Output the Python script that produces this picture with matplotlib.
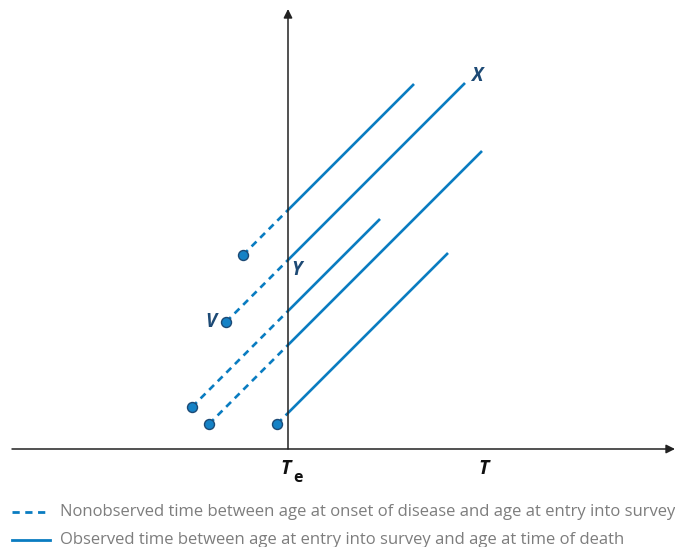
import matplotlib
matplotlib.use("Agg")
import matplotlib.pyplot as plt
from matplotlib.lines import Line2D

# Data (arbitrary time units; entry into survey at Te = 0)
entry_time = 0.0
onset_time = [-4.5, -6.2, -9.6, -7.9, -1.1]
onset_age = [19.4, 12.7, 4.2, 2.5, 2.5]
death_time = [12.6, 17.7, 9.2, 19.4, 16.0]
survey_end = 19.6
legend_labels = [
    "Nonobserved time between age at onset of disease and age at entry into survey",
    "Observed time between age at entry into survey and age at time of death",
]

blue = "#0a7cc1"
navy = "#1d4a75"
grey = "#7d7d7d"

fig = plt.figure(figsize=(6.75, 5.47), dpi=100)
ax = fig.add_axes([0, 0, 1, 1])
ax.set_xlim(-28.8, 38.7)
ax.set_ylim(-9.8, 44.9)
ax.axis("off")

# axes with arrows
ax.annotate("", xy=(38.7, 0), xytext=(-27.6, 0), annotation_clip=False,
            arrowprops=dict(arrowstyle="-|>", color="#222222", lw=1.1,
                            mutation_scale=13, shrinkA=0, shrinkB=0))
ax.annotate("", xy=(entry_time, 44.0), xytext=(entry_time, 0), annotation_clip=False,
            arrowprops=dict(arrowstyle="-|>", color="#222222", lw=1.1,
                            mutation_scale=13, shrinkA=0, shrinkB=0))

for t0, a0, td in zip(onset_time, onset_age, death_time):
    a_entry = a0 + (entry_time - t0)
    a_death = a0 + (td - t0)
    ax.plot([t0, entry_time], [a0, a_entry], color=blue, lw=1.9,
            dashes=(2.6, 2.0), solid_capstyle="butt", zorder=2)
    ax.plot([entry_time, td], [a_entry, a_death], color=blue, lw=1.9,
            solid_capstyle="butt", zorder=2)
    ax.plot([t0], [a0], marker="o", ms=7.2, mfc="#1582c6", mec=navy,
            mew=1.0, zorder=4, clip_on=False)

lab_font = dict(family="Open Sans", fontweight="bold", fontstyle="italic",
                color=navy, fontsize=13.5)
i = 1
ax.text(onset_time[i] - 1.0, onset_age[i], "V", ha="right", va="center", **lab_font)
ax.text(entry_time + 0.35, onset_age[i] + (entry_time - onset_time[i]) - 1.0, "Y",
        ha="left", va="center", **lab_font)
ax.text(death_time[i] + 0.6, onset_age[i] + (death_time[i] - onset_time[i]) + 0.7,
        "X", ha="left", va="center", **lab_font)

ax.text(entry_time - 0.25, -2.05, "T", ha="center", va="center", family="Open Sans",
        fontweight="bold", fontstyle="italic", fontsize=14, color="#111111")
ax.text(entry_time + 0.5, -2.85, "e", ha="left", va="center", family="Open Sans",
        fontweight="bold", fontsize=11.5, color="#111111")
ax.text(survey_end, -2.05, "T", ha="center", va="center", family="Open Sans",
        fontweight="bold", fontstyle="italic", fontsize=14, color="#111111")

# legend (bottom, figure pixel coordinates)
H = 547.0
fig.add_artist(Line2D([12 / 675, 48 / 675], [1 - 512 / H, 1 - 512 / H], color=blue,
                      lw=2.0, dashes=(2.6, 2.0), transform=fig.transFigure))
fig.add_artist(Line2D([12 / 675, 50 / 675], [1 - 540 / H, 1 - 540 / H], color=blue,
                      lw=2.0, transform=fig.transFigure))
fig.text(60 / 675, 1 - 512 / H, legend_labels[0], ha="left", va="center",
         family="Open Sans", fontsize=12, color=grey)
fig.text(60 / 675, 1 - 540 / H, legend_labels[1], ha="left", va="center",
         family="Open Sans", fontsize=12, color=grey)

fig.savefig("out.png", dpi=100)
